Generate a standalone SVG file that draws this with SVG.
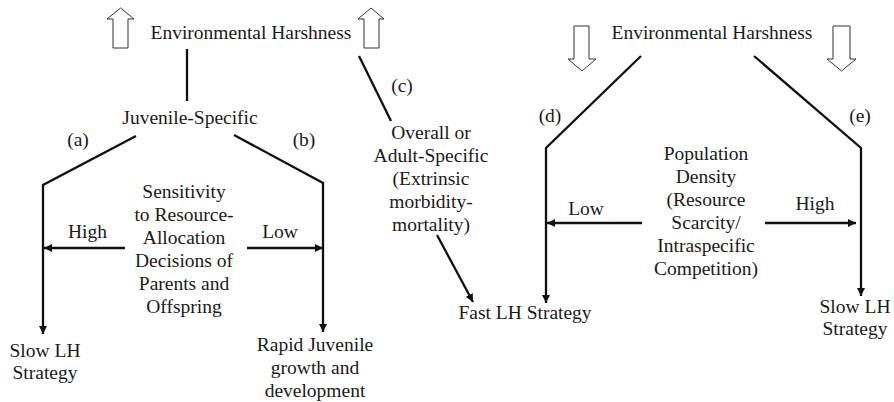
<svg xmlns="http://www.w3.org/2000/svg" width="894" height="402" viewBox="0 0 894 402">
<defs>
<style>
text{font-family:"Liberation Serif","Times New Roman",serif;font-size:19.5px;fill:#1a1a1a;text-anchor:middle}
.c{fill:none;stroke:#111;stroke-width:2.3}
.bh{fill:#fff;stroke:#333;stroke-width:1}
</style>
<marker id="ah" markerUnits="userSpaceOnUse" markerWidth="9" markerHeight="8" refX="8" refY="4" orient="auto"><path d="M0,0 L8,4 L0,8 z" fill="#111"/></marker>
</defs>
<rect width="894" height="402" fill="#fff"/>
<g id="big-arrows">
<polygon class="bh" points="120.5,8 134,19 128,19 128,48 113,48 113,19 107,19"/>
<polygon class="bh" points="371,8 384,19 379,19 379,48 364,48 364,19 358,19"/>
<polygon class="bh" points="574,26 589,26 589,59 596,59 582,71 568,59 574,59"/>
<polygon class="bh" points="833,26 850,26 850,59 856,59 841.5,71 827,59 833,59"/>
</g>
<g id="connectors">
<path class="c" d="M187,49 V101"/>
<path class="c" d="M359,56 L391,121"/>
<path class="c" d="M136,136 L43,185 V334" marker-end="url(#ah)"/>
<path class="c" d="M234,135 L323,183 V332" marker-end="url(#ah)"/>
<path class="c" d="M125,248 H44" marker-end="url(#ah)"/>
<path class="c" d="M247,248 H323" marker-end="url(#ah)"/>
<path class="c" d="M437,235 L473,302" marker-end="url(#ah)"/>
<path class="c" d="M641,56 L546,148 V303" marker-end="url(#ah)"/>
<path class="c" d="M754,56 L861,148 V296" marker-end="url(#ah)"/>
<path class="c" d="M642,223 H547" marker-end="url(#ah)"/>
<path class="c" d="M765,223 H856" marker-end="url(#ah)"/>
</g>
<g id="env-left"><text x="251" y="39">Environmental Harshness</text></g>
<g id="juvenile"><text x="190" y="124">Juvenile-Specific</text></g>
<g id="label-a"><text x="78" y="146">(a)</text></g>
<g id="label-b"><text x="304" y="146">(b)</text></g>
<g id="label-c"><text x="402" y="92">(c)</text></g>
<g id="sensitivity">
<text x="184" y="198">Sensitivity</text>
<text x="184" y="221">to Resource-</text>
<text x="184" y="244">Allocation</text>
<text x="184" y="267">Decisions of</text>
<text x="184" y="290">Parents and</text>
<text x="184" y="313">Offspring</text>
</g>
<g id="high-left"><text x="87.5" y="238">High</text></g>
<g id="low-left"><text x="280" y="238">Low</text></g>
<g id="slow-left"><text x="45" y="357">Slow LH</text><text x="45" y="379">Strategy</text></g>
<g id="rapid"><text x="315" y="351">Rapid Juvenile</text><text x="315" y="374">growth and</text><text x="315" y="397">development</text></g>
<g id="overall">
<text x="431" y="139">Overall or</text>
<text x="431" y="162">Adult-Specific</text>
<text x="431" y="185">(Extrinsic</text>
<text x="431" y="208">morbidity-</text>
<text x="431" y="231">mortality)</text>
</g>
<g id="fast"><text x="525" y="319">Fast LH Strategy</text></g>
<g id="env-right"><text x="712" y="39">Environmental Harshness</text></g>
<g id="label-d"><text x="550" y="122">(d)</text></g>
<g id="label-e"><text x="860" y="122">(e)</text></g>
<g id="population">
<text x="706" y="160">Population</text>
<text x="706" y="183">Density</text>
<text x="706" y="206">(Resource</text>
<text x="706" y="229">Scarcity/</text>
<text x="706" y="252">Intraspecific</text>
<text x="706" y="275">Competition)</text>
</g>
<g id="low-right"><text x="586" y="215">Low</text></g>
<g id="high-right"><text x="815" y="210">High</text></g>
<g id="slow-right"><text x="855" y="313">Slow LH</text><text x="855" y="335">Strategy</text></g>
</svg>
